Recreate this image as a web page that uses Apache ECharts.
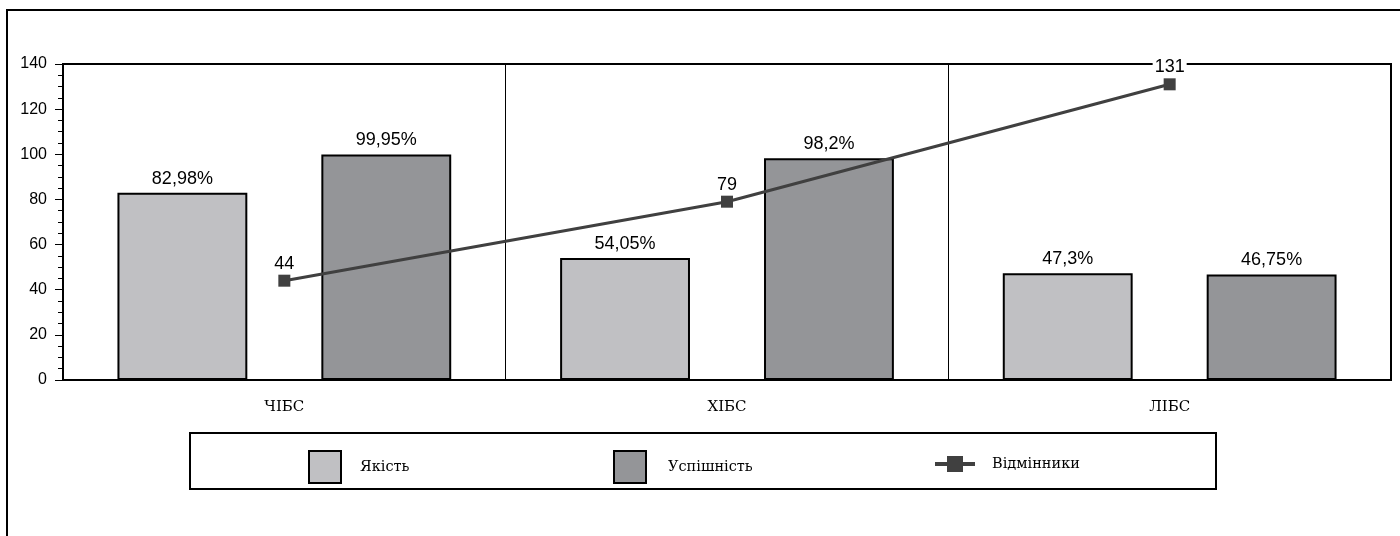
<!DOCTYPE html>
<html>
<head>
<meta charset="utf-8">
<script src="https://cdn.jsdelivr.net/npm/echarts@6/dist/echarts.min.js"></script>
<style>
html,body{margin:0;padding:0;background:#fff;}
#c{width:1400px;height:536px;}
</style>
</head>
<body>
<div id="c"></div>
<script>
const categories = ['ЧІБС', 'ХІБС', 'ЛІБС'];
const seriesNames = ['Якість', 'Успішність', 'Відмінники'];
const quality = [82.98, 54.05, 47.3];
const success = [99.95, 98.2, 46.75];
const excellent = [44, 79, 131];
const yTicks = [0, 20, 40, 60, 80, 100, 120, 140];

const serif = '"DejaVu Serif", "Liberation Serif", serif';
const sans = '"Liberation Sans", Arial, sans-serif';
const pct = v => String(v).replace('.', ',') + '%';

const chart = echarts.init(document.getElementById('c'), null, {renderer: 'canvas'});
const option = {
  animation: false,
  backgroundColor: '#fff',
  graphic: [
    {type: 'rect', shape: {x: 7, y: 10, width: 1420, height: 600}, style: {fill: 'none', stroke: '#000', lineWidth: 2}, z: -10},
    {type: 'rect', shape: {x: 190, y: 433, width: 1026, height: 56}, style: {fill: 'none', stroke: '#000', lineWidth: 2}, z: -5}
  ],
  grid: {left: 63, right: 9, top: 64, bottom: 156, show: true, borderColor: '#000', borderWidth: 2, backgroundColor: 'transparent'},
  legend: [
    {data: [seriesNames[0]], left: 303, top: 445, itemWidth: 32, itemHeight: 32, icon: 'rect',
     textStyle: {fontFamily: serif, fontSize: 14.5, color: '#000', padding: [0, 0, 0, 14]}, selectedMode: false},
    {data: [seriesNames[1]], left: 608, top: 445, itemWidth: 32, itemHeight: 32, icon: 'rect',
     textStyle: {fontFamily: serif, fontSize: 14.5, color: '#000', padding: [0, 0, 0, 17]}, selectedMode: false},
    {data: [seriesNames[2]], left: 928, top: 451, itemWidth: 40, itemHeight: 20,
     lineStyle: {width: 4, color: '#404040'}, itemStyle: {color: '#404040'},
     textStyle: {fontFamily: serif, fontSize: 14.5, color: '#000', padding: [0, 0, 0, 12]}, selectedMode: false}
  ],
  xAxis: {
    type: 'category', data: categories,
    axisLine: {show: true, lineStyle: {color: '#000', width: 2}},
    axisTick: {show: false},
    axisLabel: {fontFamily: serif, fontSize: 15, color: '#000', margin: 20},
    splitLine: {show: true, lineStyle: {color: '#000', width: 1}}
  },
  yAxis: {
    type: 'value', min: 0, max: 140, interval: 20,
    axisLine: {show: true, lineStyle: {color: '#000', width: 2}},
    axisTick: {show: true, length: 8, lineStyle: {color: '#000', width: 1}},
    minorTick: {show: true, splitNumber: 4, length: 5, lineStyle: {color: '#000', width: 1}},
    axisLabel: {fontFamily: sans, fontSize: 16, color: '#000', margin: 16,
      formatter: v => yTicks.includes(v) ? String(v) : ''},
    splitLine: {show: false}
  },
  series: [
    {name: seriesNames[0], type: 'bar', data: quality, barGap: '57%', barCategoryGap: '24.6%',
     itemStyle: {color: '#c0c0c3', borderColor: '#000', borderWidth: 2},
     label: {show: true, position: 'top', distance: 5, fontFamily: sans, fontSize: 18, color: '#000',
       formatter: p => pct(p.value)}},
    {name: seriesNames[1], type: 'bar', data: success,
     itemStyle: {color: '#949598', borderColor: '#000', borderWidth: 2},
     label: {show: true, position: 'top', distance: 5, fontFamily: sans, fontSize: 18, color: '#000',
       formatter: p => pct(p.value)}},
    {name: seriesNames[2], type: 'line', data: excellent, z: 5,
     symbol: 'rect', symbolSize: 12,
     lineStyle: {color: '#404040', width: 3},
     itemStyle: {color: '#404040'},
     label: {show: true, position: 'top', distance: 2, fontFamily: sans, fontSize: 18, color: '#000',
       backgroundColor: '#fff', padding: [0, 2, 0, 2]}}
  ]
};
chart.setOption(option);
</script>
</body>
</html>
